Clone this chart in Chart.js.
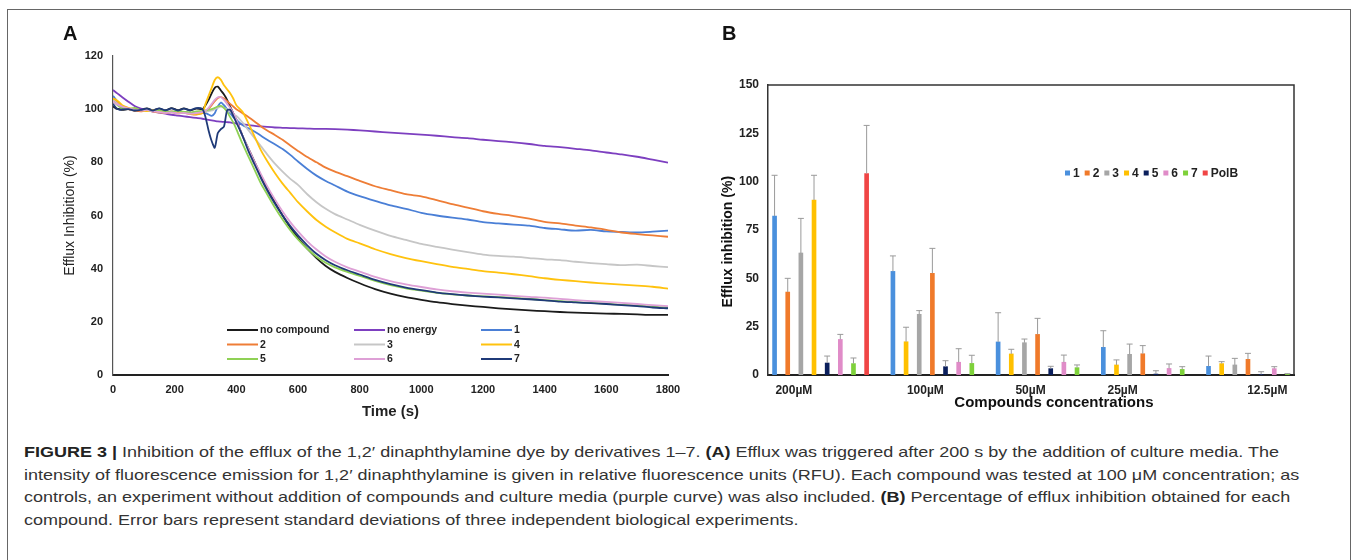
<!DOCTYPE html>
<html>
<head>
<meta charset="utf-8">
<script src="https://cdn.jsdelivr.net/npm/chart.js@4.4.1/dist/chart.umd.min.js"></script>
<style>
  body { margin: 0; background: #fff; width: 1357px; height: 560px; overflow: hidden; position: relative; }
  #frame { position: absolute; left: 7px; top: 9px; width: 1342px; height: 560px; border: 1.5px solid #666; }
  .panel { position: absolute; top: 0; height: 440px; }
  #wrapA { left: 0; width: 700px; }
  #wrapB { left: 690px; width: 667px; }
  .tag { position: absolute; top: 22px; font: bold 20px "Liberation Sans", Arial, sans-serif; color: #111; }
  #caption { position: absolute; left: 24px; top: 441px; font: 15px "Liberation Sans", Arial, sans-serif;
             line-height: 22.5px; color: #333; white-space: nowrap; transform-origin: 0 0; }
  #caption b { color: #222; }
</style>
</head>
<body>
<div id="frame"></div>
<div class="panel" id="wrapA"><canvas id="chartA"></canvas></div>
<div class="panel" id="wrapB"><canvas id="chartB"></canvas></div>
<div class="tag" style="left:63px">A</div>
<div class="tag" style="left:722px">B</div>
<div id="caption">
<span id="line1"><b>FIGURE 3 |</b> Inhibition of the efflux of the 1,2′ dinaphthylamine dye by derivatives 1–7. <b>(A)</b> Efflux was triggered after 200 s by the addition of culture media. The</span><br>
intensity of fluorescence emission for 1,2′ dinaphthylamine is given in relative fluorescence units (RFU). Each compound was tested at 100 μM concentration; as<br>
controls, an experiment without addition of compounds and culture media (purple curve) was also included. <b>(B)</b> Percentage of efflux inhibition obtained for each<br>
compound. Error bars represent standard deviations of three independent biological experiments.
</div>
<script>
// ---- Panel A: efflux kinetics (time in s, value in %) ----
const timeSec = [0, 10, 20, 30, 50, 70, 90, 110, 130, 150, 170, 190, 210, 230, 250, 270, 290,
  300, 310, 320, 330, 340, 350, 360, 370, 380, 390, 400,
  420, 440, 460, 480, 500, 525, 550, 575, 600, 630, 660, 690, 720, 760, 800, 850, 900, 950, 1000,
  1050, 1100, 1150, 1200, 1250, 1300, 1350, 1400, 1450, 1500, 1550, 1600, 1650, 1700, 1750, 1800];

const noCompound = [101, 100.2, 100, 99.7, 100, 99.4, 99.8, 100.3, 99.6, 100.2, 99.5, 100.4, 99.6, 100.3, 99.5, 100.2, 100,
  101.5, 103.5, 106, 108, 108.5, 107, 105.5, 103.5, 101, 98.5, 96,
  90, 85, 80, 75, 70.5, 65, 60, 55.5, 51.5, 47.5, 44, 41, 38.8, 36.5, 34.5, 32.3, 30.6, 29.3, 28.3,
  27.4, 26.7, 26.1, 25.6, 25.1, 24.7, 24.3, 24, 23.7, 23.5, 23.3, 23.1, 23, 22.8, 22.6, 22.6];
const noEnergy = [107.2, 106.3, 105.4, 104.5, 102.8, 101.2, 100.2, 99.6, 99.1, 98.7, 98.3, 97.9, 97.6, 97.3, 97, 96.7, 96.4,
  96.2, 96, 95.8, 95.6, 95.4, 95.3, 95.2, 95.1, 95, 94.8, 94.6,
  94.3, 94, 93.7, 93.5, 93.3, 93.1, 93, 92.9, 92.8, 92.7, 92.6, 92.6, 92.5, 92.3, 92, 91.6, 91.2, 90.8, 90.4,
  90, 89.5, 89.1, 88.5, 88, 87.5, 86.9, 86.2, 85.7, 85.1, 84.5, 83.7, 83, 82.1, 81, 79.9];
const cpd1 = [105, 103.5, 102, 101, 100.2, 99.8, 99.5, 99.8, 99.3, 99.5, 99, 99.2, 98.8, 99, 98.6, 98.8, 98.8,
  98.5, 98, 97.5, 98.5, 101, 102.5, 101.5, 100, 98.5, 97, 96,
  94, 92.8, 91.5, 90, 88.5, 86.8, 85, 82.8, 80.3, 77.5, 75, 73, 71.3, 69, 67.3, 65.5, 63.8, 62.5, 61,
  60, 59.2, 58.5, 57.5, 57, 56.6, 56.2, 55.3, 54.8, 54.3, 54.6, 54, 53.8, 53.6, 53.9, 54.3];
const cpd2 = [104, 103, 102, 101, 100, 99.5, 99.2, 99.6, 99.1, 98.8, 98.6, 98.9, 98.4, 98.6, 98.2, 98, 98.5,
  99, 100, 101.5, 103, 104.2, 104.5, 104, 103, 102, 101, 100,
  98.5, 97, 95.3, 93.5, 92, 90.3, 88.5, 86.3, 84.3, 82, 80, 78, 76.5, 74.8, 73, 71, 69.5, 68, 67.2,
  65.8, 64.3, 63, 61.6, 60.6, 59.8, 58.8, 57.6, 57, 56.2, 55.5, 54.6, 53.6, 53, 52.5, 52];
const cpd3 = [103.5, 102.5, 101.5, 100.8, 100, 99.6, 99.7, 99.3, 99.5, 99, 99.2, 98.8, 99, 98.7, 98.5, 98.6, 98.8,
  99, 99.3, 99.5, 100, 100.5, 101, 100.5, 99.8, 99, 98, 97.5,
  95, 92, 89, 86, 83, 79.5, 76.5, 73.8, 71.5, 68, 65, 62.5, 60.5, 58.5, 56.5, 54.3, 52.3, 50.8, 49.3,
  48.2, 47.2, 46.2, 45.3, 44.8, 44.5, 44, 43.5, 43.2, 42.6, 42.1, 41.7, 41.3, 41.5, 41, 40.6];
const cpd4 = [104, 103.5, 102.6, 101.5, 100.5, 100, 99.6, 99.3, 99.6, 99, 98.8, 99.2, 98.6, 98.9, 98.3, 98.2, 98.6,
  102, 105, 108, 111, 112, 111, 109, 107.5, 106, 104, 101.5,
  99, 94.5, 89.5, 84.5, 80.5, 76, 72, 68.5, 65, 61.5, 58.3, 55.8, 53.7, 51.2, 49.5, 47.3, 45.5, 44, 42.8,
  41.7, 40.7, 39.9, 39.1, 38.5, 37.9, 37.2, 36.4, 35.8, 35.3, 34.8, 34.4, 34, 33.6, 33.2, 32.5];
const cpd5 = [103, 102, 101, 100.3, 100, 100.5, 99.6, 99.8, 99.3, 99.6, 99.2, 99, 99.3, 99, 98.8, 99.2, 99.3,
  99.5, 99.8, 100, 100.5, 101, 101.2, 100.5, 99, 97, 95, 92.5,
  87, 82, 77, 72, 68, 63, 58.5, 54.5, 51, 47.5, 44.5, 42.2, 40.5, 38.8, 37.3, 35.4, 33.8, 32.6, 31.7,
  30.9, 30.3, 29.9, 29.6, 29.3, 29, 28.6, 28.2, 27.8, 27.4, 27.1, 26.8, 26.4, 26.1, 25.7, 25.4];
const cpd6 = [103, 102, 101.5, 101, 100.3, 99.8, 99.5, 99.7, 99.2, 99, 98.6, 98.8, 98.4, 98.6, 98.3, 98.5, 99,
  99.5, 100.5, 102, 103.5, 104.5, 104.5, 103.5, 102, 100.5, 98.5, 96,
  90, 85, 80, 75.5, 71, 66, 61.5, 57.5, 54, 50.3, 47.2, 44.6, 42.6, 40.5, 38.9, 36.9, 35.3, 34.1, 33.1,
  32.2, 31.5, 31, 30.6, 30.2, 29.8, 29.4, 29.1, 28.6, 28.2, 27.8, 27.5, 27.1, 26.7, 26.3, 25.9];
const cpd7 = [102, 100.5, 99.8, 99.9, 100, 99.5, 99.7, 100.2, 99.5, 100.3, 99.6, 100.3, 99.5, 100.2, 99.6, 100.4, 100,
  97, 92, 88, 85.5, 91, 92.5, 93.5, 99.5, 99.8, 97.5, 95,
  90, 84, 79, 74, 69.5, 64.5, 60, 56, 52.5, 48.8, 45.6, 43.2, 41.3, 39.4, 37.8, 35.8, 34.2, 32.9, 31.9,
  31, 30.4, 29.9, 29.5, 29.2, 28.8, 28.5, 28.1, 27.6, 27.3, 27, 26.7, 26.3, 25.9, 25.4, 25.1];

const lineNames = ['no compound', 'no energy', '1', '2', '3', '4', '5', '6', '7'];
const lineValues = [noCompound, noEnergy, cpd1, cpd2, cpd3, cpd4, cpd5, cpd6, cpd7];
const lineColors = ['#1b1b1b', '#7d3fc0', '#4a7fd6', '#ee7d36', '#c6c6c6', '#ffc20e', '#8fd155', '#dea0d6', '#1f3a78'];

// ---- Panel B: inhibition per concentration ----
const concentrations = ['200µM', '100µM', '50µM', '25µM', '12.5µM'];
const compoundNames = ['1', '2', '3', '4', '5', '6', '7', 'PolB'];
const mean1 = [82.2, 53.6, 17.1, 14.3, 4.5];   const sd1 = [21.1, 8, 15.1, 8.6, 5.3];
const mean2 = [42.9, 52.6, 21, 11, 8.1];        const sd2 = [7.1, 12.9, 8.3, 4.2, 3.1];
const mean3 = [63.1, 31.4, 16.7, 10.7, 5.2];   const sd3 = [17.9, 1.9, 1.9, 5.3, 3.4];
const mean4 = [90.5, 17.2, 10.9, 5.2, 5.9];    const sd4 = [12.8, 7.5, 2.4, 2.6, 1];
const mean5 = [6.2, 4.3, 3.3, 0.5, 0.3];       const sd5 = [3.6, 3.1, 1.2, 1.7, 1.4];
const mean6 = [18.4, 6.6, 6.6, 3.4, 3.3];      const sd6 = [2.6, 7, 3.7, 2.3, 1];
const mean7 = [5.9, 6, 3.8, 2.9, 0.4];         const sd7 = [2.9, 4.2, 1.4, 1.4, 0.3];
const meanPolB = [104.2, null, null, null, null]; const sdPolB = [24.9, null, null, null, null];
// order of compounds (index into compoundNames) inside each concentration group
const slotOrder = [[0, 1, 2, 3, 4, 5, 6, 7], [0, 3, 2, 1, 4, 5, 6], [0, 3, 2, 1, 4, 5, 6], [0, 3, 2, 1, 4, 5, 6], [0, 3, 2, 1, 4, 5, 6]];
const tickSlots = [2, 12, 20, 27, 38];
const barColors = ['#4a90dd', '#f07a2a', '#a6a6a6', '#ffc000', '#0b1f5c', '#e08cc8', '#7ed13a', '#f04545'];

Chart.defaults.font.family = "'Liberation Sans', Arial, sans-serif";
Chart.defaults.color = '#222';

const gridLegend = {
  id: 'gridLegend',
  afterDraw(chart, args, o) {
    const ctx = chart.ctx;
    ctx.save();
    ctx.font = o.font;
    ctx.textBaseline = 'middle';
    chart.data.datasets.forEach((d, i) => {
      const x = o.x + (i % o.cols) * o.colWidth;
      const y = o.y + Math.floor(i / o.cols) * o.rowHeight;
      ctx.strokeStyle = d.borderColor;
      ctx.lineWidth = 2;
      ctx.beginPath(); ctx.moveTo(x, y); ctx.lineTo(x + o.lineLen, y); ctx.stroke();
      ctx.fillStyle = '#222';
      ctx.fillText(d.label, x + o.lineLen + 2, y + 0.5);
    });
    ctx.restore();
  }
};

const rowLegend = {
  id: 'rowLegend',
  afterDraw(chart, args, o) {
    const ctx = chart.ctx;
    ctx.save();
    ctx.font = o.font;
    ctx.textBaseline = 'middle';
    let x = o.x;
    chart.data.datasets.forEach(d => {
      ctx.fillStyle = d.backgroundColor;
      ctx.fillRect(x, o.y - 2.5, 5, 5);
      x += 8;
      ctx.fillStyle = '#222';
      ctx.fillText(d.label, x, o.y + 0.5);
      x += ctx.measureText(d.label).width + 5;
    });
    ctx.restore();
  }
};

const errorBars = {
  id: 'errorBars',
  afterDatasetsDraw(chart) {
    const ctx = chart.ctx, y = chart.scales.y;
    ctx.save();
    ctx.strokeStyle = '#9a9a9a';
    ctx.lineWidth = 1;
    chart.data.datasets.forEach((d, i) => {
      chart.getDatasetMeta(i).data.forEach((bar, j) => {
        const v = d.data[j], e = d.errors[j];
        if (v == null || e == null) return;
        const top = y.getPixelForValue(v + e);
        ctx.beginPath();
        ctx.moveTo(bar.x, bar.y); ctx.lineTo(bar.x, top);
        ctx.moveTo(bar.x - 3, top); ctx.lineTo(bar.x + 3, top);
        ctx.stroke();
      });
    });
    ctx.restore();
  }
};

const plotFrame = {
  id: 'plotFrame',
  beforeDatasetsDraw(chart) {
    const { ctx, chartArea: a } = chart;
    ctx.save();
    ctx.strokeStyle = '#333';
    ctx.lineWidth = 1.5;
    ctx.beginPath();
    ctx.moveTo(a.left, a.top); ctx.lineTo(a.right, a.top); ctx.lineTo(a.right, a.bottom);
    ctx.stroke();
    ctx.restore();
  }
};

const tickFont = { size: 11, weight: 'bold' };

new Chart(document.getElementById('chartA'), {
  type: 'line',
  data: {
    datasets: lineNames.map((name, i) => ({
      label: name,
      data: timeSec.map((t, k) => ({ x: t, y: lineValues[i][k] })),
      borderColor: lineColors[i],
      borderWidth: 1.8,
      pointRadius: 0,
      tension: 0.25,
      order: lineNames.length - i
    }))
  },
  options: {
    animation: false,
    responsive: true,
    maintainAspectRatio: false,
    layout: { padding: { left: 53, right: 32, top: 56, bottom: 15 } },
    plugins: {
      legend: { display: false },
      tooltip: { enabled: false },
      gridLegend: { x: 227, y: 330, cols: 3, colWidth: 127, rowHeight: 14.5, lineLen: 31, font: "bold 10.5px 'Liberation Sans', Arial, sans-serif" }
    },
    scales: {
      x: {
        type: 'linear', min: 0, max: 1800,
        ticks: { stepSize: 200, padding: 8, font: tickFont, color: '#222', callback: v => String(v) },
        grid: { display: false, drawTicks: false },
        border: { display: true, color: '#222', width: 2 },
        title: { display: true, text: 'Time (s)', font: { size: 15, weight: 'bold' }, color: '#222', padding: { top: 0, bottom: 4 } },
        afterFit(s) { s.height = 50; }
      },
      y: {
        min: 0, max: 120,
        ticks: { stepSize: 20, padding: 10, font: tickFont, color: '#222' },
        grid: { display: false, drawTicks: false },
        border: { display: true, color: '#555', width: 1.2 },
        title: { display: true, text: 'Efflux Inhibition (%)', font: { size: 14 }, color: '#222', padding: { top: 9, bottom: 0 } },
        afterFit(s) { s.width = 60; }
      }
    }
  },
  plugins: [gridLegend]
});

// build the 40 category slots of panel B (one empty slot between groups)
const barMeans = [mean1, mean2, mean3, mean4, mean5, mean6, mean7, meanPolB];
const barSds = [sd1, sd2, sd3, sd4, sd5, sd6, sd7, sdPolB];
const groupStart = [];
let slot = 0;
slotOrder.forEach(g => { groupStart.push(slot); slot += g.length + 1; });
const slotCount = slot - 1;
const slotLabels = new Array(slotCount).fill('');
tickSlots.forEach((s, i) => { slotLabels[s] = concentrations[i]; });

const barDatasets = compoundNames.map((name, c) => {
  const data = new Array(slotCount).fill(null);
  const errors = new Array(slotCount).fill(null);
  slotOrder.forEach((g, gi) => {
    const pos = g.indexOf(c);
    if (pos >= 0 && barMeans[c][gi] != null) {
      data[groupStart[gi] + pos] = barMeans[c][gi];
      errors[groupStart[gi] + pos] = barSds[c][gi];
    }
  });
  return { label: name, data, errors, backgroundColor: barColors[c], barThickness: 4, grouped: false };
});

new Chart(document.getElementById('chartB'), {
  type: 'bar',
  data: { labels: slotLabels, datasets: barDatasets },
  options: {
    animation: false,
    responsive: true,
    maintainAspectRatio: false,
    layout: { padding: { left: 20, right: 63, top: 85, bottom: 25 } },
    plugins: {
      legend: { display: false },
      tooltip: { enabled: false },
      rowLegend: { x: 375, y: 173, font: "bold 12px 'Liberation Sans', Arial, sans-serif" }
    },
    scales: {
      x: {
        ticks: { autoSkip: false, maxRotation: 0, padding: 8, labelOffset: -7, font: { size: 12, weight: 'bold' }, color: '#222' },
        grid: { display: false, drawTicks: false },
        border: { display: true, color: '#222', width: 2 },
        title: { display: true, text: '           Compounds concentrations', font: { size: 15, weight: 'bold' }, color: '#111', padding: { top: 0, bottom: 3 } },
        afterFit(s) { s.height = 40; }
      },
      y: {
        min: 0, max: 150,
        ticks: { stepSize: 25, padding: 9, font: { size: 12, weight: 'bold' }, color: '#222' },
        grid: { display: false, drawTicks: false },
        border: { display: true, color: '#333', width: 1.5 },
        title: { display: true, text: 'Efflux inhibition (%)      ', font: { size: 14, weight: 'bold' }, color: '#111', padding: { top: 10, bottom: 0 } },
        afterFit(s) { s.width = 58; }
      }
    }
  },
  plugins: [errorBars, plotFrame, rowLegend]
});

// fit caption width to the original line length
const cap = document.getElementById('caption');
const w1 = document.getElementById('line1').getBoundingClientRect().width;
cap.style.transform = 'scaleX(' + (1255 / w1).toFixed(4) + ')';
</script>
</body>
</html>
